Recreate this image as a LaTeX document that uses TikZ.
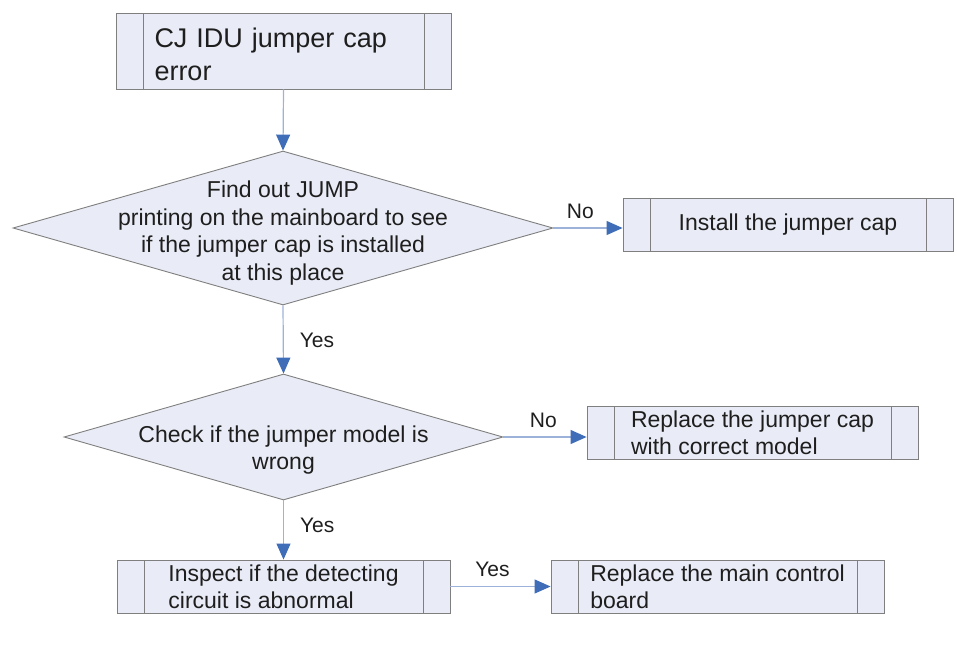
\documentclass[tikz,border=0pt]{standalone}
\usepackage{fontspec}
\setmainfont{Liberation Sans}
\usetikzlibrary{arrows.meta,shapes.geometric}

\definecolor{boxfill}{HTML}{E9ECF6}
\definecolor{boxline}{HTML}{7F7F7F}
\definecolor{flowline}{HTML}{9CB2D8}
\definecolor{flowtip}{HTML}{3F6DB8}
\definecolor{ink}{HTML}{1E1E1E}

\begin{document}
\begin{tikzpicture}[
  x=1pt, y=-1pt,
  every node/.style={text=ink},
  process/.style={draw=boxline, fill=boxfill, line width=0.9pt, minimum height=53pt,
    inner sep=0pt, align=left, font=\fontsize{23}{27}\selectfont,
    path picture={\draw[boxline, line width=0.9pt]
      ([xshift=27pt]path picture bounding box.north west) -- ([xshift=27pt]path picture bounding box.south west)
      ([xshift=-27pt]path picture bounding box.north east) -- ([xshift=-27pt]path picture bounding box.south east);}},
  decision/.style={diamond, draw=boxline, fill=boxfill, line width=0.9pt, inner sep=0pt, aspect=3.5},
  question/.style={align=center, font=\fontsize{23}{27.5}\selectfont},
  arrow/.style={draw=flowline, line width=1.2pt, -{Triangle[length=16pt, width=14pt, color=flowtip]}},
  answer/.style={font=\fontsize{21}{25}\selectfont, inner sep=2pt}
]
\useasboundingbox (0,0) rectangle (957,651);

\node[process, minimum width=335pt, minimum height=76pt, text width=258pt, text height=27pt,
  font=\fontsize{27}{33}\selectfont] (start) at (283.5,51) {CJ IDU jumper cap\\error};
\node[decision, minimum width=540pt, minimum height=154pt,
  label={[question, yshift=-5pt]center:Find out JUMP\\printing on the mainboard to see\\if the jumper cap is installed\\at this place}] (jump) at (283,228) {};
\node[process, minimum width=330pt, align=center] (fit) at (788,225) {Install the jumper cap};
\node[decision, minimum width=439pt, minimum height=126pt,
  label={[question, yshift=-13pt]center:Check if the jumper model is\\wrong}] (model) at (283.5,437) {};
\node[process, minimum width=331pt] (swap) at (752.5,432.5) {Replace the jumper cap\\with correct model};
\node[process, minimum width=333pt] (probe) at (283.5,586.5) {Inspect if the detecting\\circuit is abnormal};
\node[process, minimum width=333pt] (board) at (717.5,586.5) {Replace the main control\\board};

\draw[arrow] (start.south) -- (jump.north);
\draw[arrow] (jump.east) -- node[answer, above=7pt, pos=0.39] {No} (jump.east -| fit.west);
\draw[arrow] (jump.south) -- node[answer, right=14pt, pos=0.51] {Yes} (model.north);
\draw[arrow] (model.east) -- node[answer, above=7pt, pos=0.48] {No} (model.east -| swap.west);
\draw[arrow] (model.south) -- node[answer, right=14pt, pos=0.42] {Yes} (probe.north);
\draw[arrow] (probe.east) -- node[answer, above=7pt, pos=0.42] {Yes} (board.west);
\end{tikzpicture}
\end{document}
